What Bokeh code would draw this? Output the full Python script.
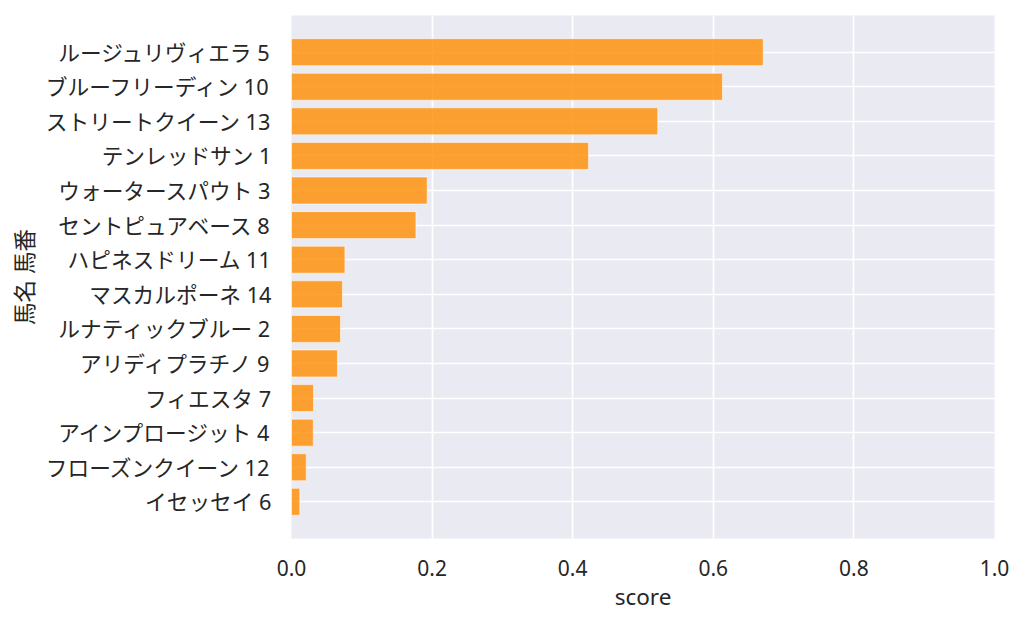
from bokeh.plotting import figure
from bokeh.models import FactorRange, ColumnDataSource, FixedTicker, NumeralTickFormatter
from bokeh.embed import file_html
from bokeh.resources import INLINE

horses = ["ルージュリヴィエラ 5", "ブルーフリーディン 10", "ストリートクイーン 13",
          "テンレッドサン 1", "ウォータースパウト 3", "セントピュアベース 8",
          "ハピネスドリーム 11", "マスカルポーネ 14", "ルナティックブルー 2",
          "アリディプラチノ 9", "フィエスタ 7", "アインプロージット 4",
          "フローズンクイーン 12", "イセッセイ 6"]
scores = [0.671, 0.613, 0.521, 0.4225, 0.193, 0.177, 0.076, 0.0725, 0.0697,
          0.0654, 0.0313, 0.031, 0.021, 0.0118]
x_ticks = [0.0, 0.2, 0.4, 0.6, 0.8, 1.0]

FONT = "'Noto Sans', 'Noto Sans CJK JP', sans-serif"
TXT = "#262626"

src = ColumnDataSource(dict(horse=horses, score=scores))

p = figure(
    width=1016, height=619,
    y_range=FactorRange(factors=list(reversed(horses)), range_padding=0.56,
                        range_padding_units="absolute"),
    x_range=(0, 1.0),
    output_backend="svg", toolbar_location=None,
    min_border_left=291, min_border_right=22, min_border_top=15, min_border_bottom=81,
    background_fill_color="#EAEAF2", border_fill_color="white",
)
p.outline_line_color = None

p.hbar(y="horse", right="score", left=0, height=0.78, source=src,
       fill_color="#FF8C00", fill_alpha=0.8,
       line_color="white", line_alpha=0.55, line_width=1)

p.xaxis.ticker = FixedTicker(ticks=x_ticks)
p.xaxis.formatter = NumeralTickFormatter(format="0.0")
p.xaxis.axis_label = "score"
p.yaxis.axis_label = "馬名 馬番"

for ax in (p.xaxis[0], p.yaxis[0]):
    ax.axis_line_color = None
    ax.major_tick_line_color = None
    ax.minor_tick_line_color = None
    ax.major_tick_out = 0
    ax.major_tick_in = 0
    ax.major_label_text_font = FONT
    ax.major_label_text_font_size = "21px"
    ax.major_label_text_color = TXT
    ax.axis_label_text_font = FONT
    ax.axis_label_text_font_size = "22.5px"
    ax.axis_label_text_color = TXT
    ax.axis_label_text_font_style = "normal"

p.yaxis.major_label_text_font_size = "21.7px"
p.xaxis.major_label_standoff = 21
p.xaxis.axis_label_standoff = 2
p.yaxis.major_label_standoff = 20
p.yaxis.axis_label_standoff = 3

p.xgrid.grid_line_color = "white"
p.ygrid.grid_line_color = "white"
p.xgrid.grid_line_width = 1.7
p.ygrid.grid_line_width = 1.7

open("out.html", "w").write(file_html(p, INLINE))
